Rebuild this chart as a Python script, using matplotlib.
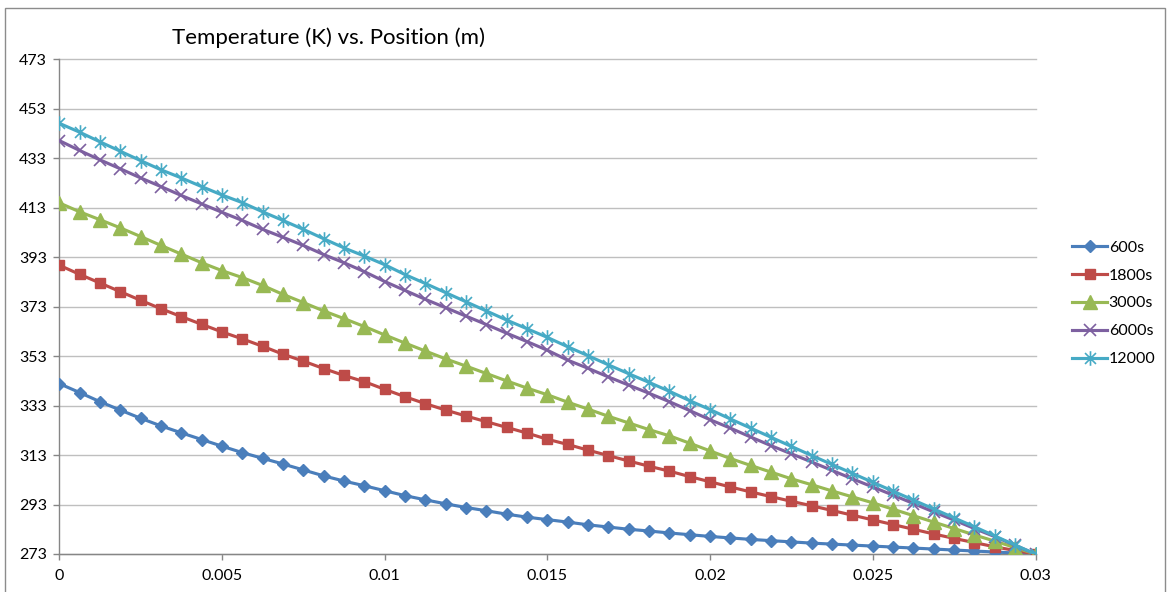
import numpy as np
import matplotlib
matplotlib.use("Agg")
import matplotlib.pyplot as plt
from matplotlib.path import Path
from matplotlib.patches import Rectangle

plt.rcParams['font.family'] = ['Lato', 'DejaVu Sans']

# Position along the slab (m), 49 nodes from 0 to 0.03
position = np.linspace(0.0, 0.03, 49)

t_600 = [341.9, 338.3, 334.6, 331.2, 327.9, 324.8, 322.0, 319.3, 316.6, 314.0,
         311.7, 309.4, 307.0, 304.6, 302.5, 300.6, 298.6, 296.6, 294.9, 293.3,
         291.8, 290.5, 289.1, 287.9, 286.9, 285.9, 284.8, 283.9, 283.0, 282.3,
         281.5, 280.8, 280.1, 279.5, 278.9, 278.4, 277.9, 277.4, 277.0, 276.6,
         276.2, 275.8, 275.4, 275.0, 274.6, 274.2, 273.8, 273.4, 273.0]

t_1800 = [389.8, 386.1, 382.6, 379.1, 375.6, 372.2, 369.0, 365.9, 362.8, 360.0,
          357.0, 353.8, 351.0, 348.0, 345.2, 342.7, 339.6, 336.6, 333.8, 331.2,
          328.8, 326.5, 324.2, 321.9, 319.4, 317.3, 315.0, 312.8, 310.6, 308.5,
          306.5, 304.3, 302.2, 300.1, 298.1, 296.2, 294.3, 292.5, 290.6, 288.7,
          286.8, 284.9, 283.0, 281.1, 279.3, 277.6, 275.9, 274.4, 273.0]

t_3000 = [415.0, 411.4, 408.2, 404.9, 401.4, 397.8, 394.3, 390.8, 387.6, 384.8,
          381.6, 378.0, 374.7, 371.3, 368.2, 365.0, 361.6, 358.3, 355.1, 351.9,
          349.0, 346.0, 343.0, 340.1, 337.4, 334.4, 331.6, 328.7, 326.0, 323.3,
          320.8, 317.8, 314.7, 311.6, 308.8, 306.1, 303.4, 301.0, 298.5, 296.1,
          293.7, 291.1, 288.5, 285.9, 283.3, 280.7, 278.2, 275.6, 273.0]

t_6000 = [440.2, 436.2, 432.4, 428.8, 425.1, 421.6, 418.0, 414.6, 411.2, 407.9,
          404.3, 401.1, 397.8, 394.1, 390.8, 387.2, 383.2, 379.6, 376.0, 372.6,
          369.2, 365.8, 362.3, 358.9, 355.4, 351.4, 348.1, 344.6, 341.3, 338.0,
          334.6, 331.0, 327.3, 323.9, 320.3, 316.8, 313.5, 310.2, 306.8, 303.4,
          300.1, 296.8, 293.4, 290.0, 286.7, 283.3, 280.0, 276.5, 273.0]

t_12000 = [447.2, 443.6, 439.7, 435.9, 432.1, 428.4, 425.1, 421.6, 418.2, 415.1,
           411.4, 407.9, 404.3, 400.5, 396.8, 393.5, 390.0, 386.0, 382.4, 378.7,
           375.0, 371.3, 367.6, 364.1, 360.6, 356.8, 353.2, 349.5, 345.9, 342.4,
           338.8, 335.0, 331.4, 327.6, 323.9, 320.2, 316.5, 312.8, 309.2, 305.6,
           302.0, 298.4, 294.8, 291.2, 287.6, 284.0, 280.3, 276.6, 273.0]

series_labels = ['600s', '1800s', '3000s', '6000s', '12000']
y_ticks = [273, 293, 313, 333, 353, 373, 393, 413, 433, 453, 473]
x_ticks = [0, 0.005, 0.01, 0.015, 0.02, 0.025, 0.03]
x_tick_labels = ['0', '0.005', '0.01', '0.015', '0.02', '0.025', '0.03']

# Asterisk-style star: vertical bar plus an X
star = Path([(0, -1), (0, 1), (-0.75, -0.75), (0.75, 0.75), (-0.75, 0.75), (0.75, -0.75)],
            [Path.MOVETO, Path.LINETO, Path.MOVETO, Path.LINETO, Path.MOVETO, Path.LINETO])

styles = [
    dict(color='#4A7EBB', marker='D', ms=6.3),
    dict(color='#BE4B48', marker='s', ms=7.3),
    dict(color='#98B954', marker='^', ms=9.5),
    dict(color='#7D60A0', marker='x', ms=8.5, mew=1.2),
    dict(color='#46AAC5', marker=star, ms=10.5, mew=1.2),
]

fig = plt.figure(figsize=(11.7, 5.92), dpi=100)
ax = fig.add_axes([59.3 / 1170, 1 - 554 / 592, (1035.5 - 59.3) / 1170, (554 - 59.5) / 592])

for vals, lab, st in zip([t_600, t_1800, t_3000, t_6000, t_12000], series_labels, styles):
    ax.plot(position, vals, lw=2.25, label=lab, color=st['color'], marker=st['marker'],
            ms=st['ms'], mfc=st['color'], mec=st['color'], mew=st.get('mew', 1.0),
            solid_joinstyle='round', zorder=3)

ax.set_xlim(0, 0.03)
ax.set_ylim(273, 473)
ax.set_yticks(y_ticks)
ax.set_xticks(x_ticks)
ax.set_xticklabels(x_tick_labels)
ax.yaxis.grid(True, color='#BFBFBF', lw=1.0)
ax.set_axisbelow(True)
for gl in ax.get_ygridlines():
    gl.set_clip_on(False)
for s in ['top', 'right']:
    ax.spines[s].set_visible(False)
for s in ['left', 'bottom']:
    ax.spines[s].set_color('#868686')
    ax.spines[s].set_linewidth(1.0)
ax.tick_params(axis='y', length=4.5, width=1, color='#868686', pad=4.5, labelsize=11.5)
ax.tick_params(axis='x', length=4, width=1, color='#868686', pad=7, labelsize=11.5)

fig.text(329 / 1170, 1 - 37.5 / 592, 'Temperature (K) vs. Position (m)', fontsize=16,
         ha='center', va='center')

ax.legend(loc='center left', bbox_to_anchor=(1072 / 1170, 1 - 303.4 / 592),
          bbox_transform=fig.transFigure, frameon=False, fontsize=11.5,
          handlelength=2.2, handletextpad=0.1, labelspacing=0.86,
          borderpad=0, borderaxespad=0, numpoints=1)

# Chart-area border
fig.patches.append(Rectangle((5 / 1170, -0.1), 1160 / 1170, 1.1 - 8 / 592,
                             transform=fig.transFigure, fill=False,
                             edgecolor='#8C8C8C', lw=1.0))

fig.savefig('out.png', dpi=100)
